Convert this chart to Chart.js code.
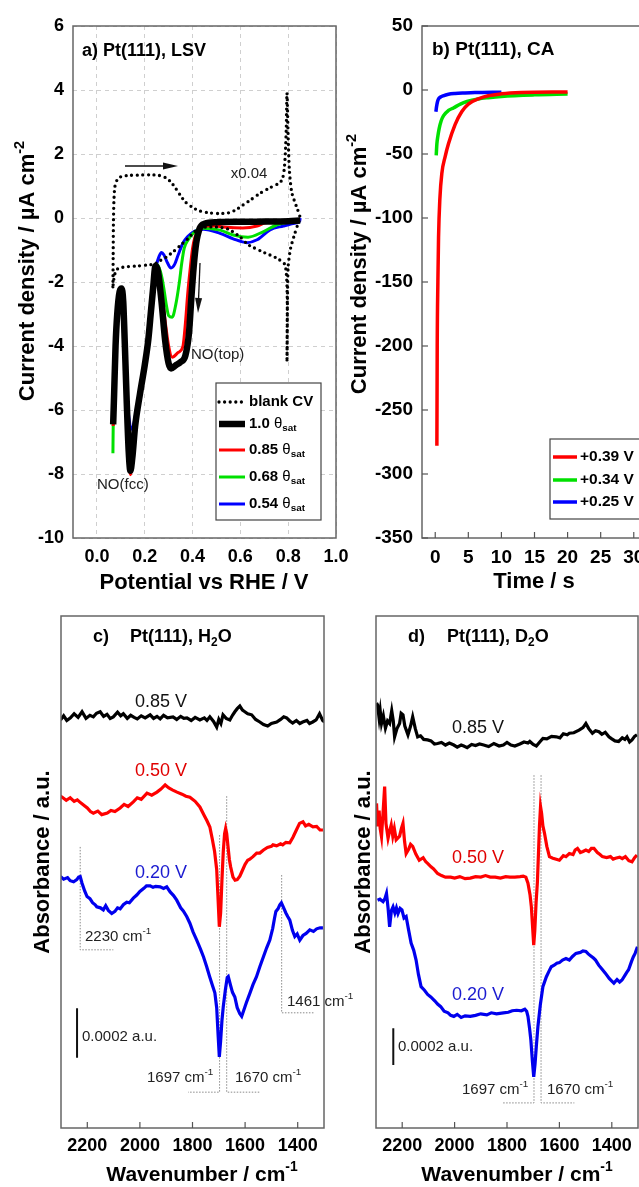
<!DOCTYPE html>
<html>
<head>
<meta charset="utf-8">
<script src="https://cdn.jsdelivr.net/npm/chart.js@4.4.1/dist/chart.umd.min.js"></script>
<style>
  html, body { margin: 0; padding: 0; background: #fff; }
  #page { position: relative; width: 639px; height: 1187px; overflow: hidden; background: #fff; }
  #page canvas { position: absolute; left: 0; top: 0; }
</style>
</head>
<body>
<div id="page">
  <canvas id="chartA" width="639" height="1187"></canvas>
  <canvas id="chartB" width="720" height="1187"></canvas>
  <canvas id="chartC" width="639" height="1187"></canvas>
  <canvas id="chartD" width="639" height="1187"></canvas>
</div>
<script>
const FONT = '"Liberation Sans", Arial, Helvetica, sans-serif';

// ---------- a) Pt(111), LSV  (potential V, current density uA cm-2) ----------
const lsvTicksX = [0, 0.2, 0.4, 0.6, 0.8, 1.0];
const lsvTicksY = [6, 4, 2, 0, -2, -4, -6, -8, -10];
const lsvLabels = ['blank CV', '1.0 θsat', '0.85 θsat', '0.68 θsat', '0.54 θsat'];

const blankCV = [
  [0.067, -2.15], [0.068, -1.2], [0.069, -0.2], [0.071, 0.5], [0.075, 0.97], [0.085, 1.2],
  [0.10, 1.29], [0.13, 1.33], [0.17, 1.34], [0.22, 1.35], [0.26, 1.33], [0.29, 1.25],
  [0.31, 1.12], [0.33, 0.92], [0.35, 0.7], [0.37, 0.5], [0.40, 0.33], [0.43, 0.22],
  [0.47, 0.16], [0.51, 0.14], [0.55, 0.16], [0.58, 0.25], [0.61, 0.4], [0.64, 0.55],
  [0.68, 0.76], [0.72, 0.93], [0.76, 1.08], [0.775, 1.2], [0.783, 1.5], [0.788, 2.0],
  [0.792, 2.8], [0.795, 3.9], [0.80, 2.5], [0.805, 1.5], [0.815, 0.8], [0.835, 0.35],
  [0.849, 0.03], [0.84, -0.2], [0.825, -0.55], [0.81, -0.95], [0.80, -1.5], [0.797, -2.5],
  [0.795, -4.5], [0.796, -2.5], [0.787, -1.47], [0.753, -1.26], [0.70, -1.08], [0.654, -0.92],
  [0.63, -0.82], [0.60, -0.6], [0.55, -0.35], [0.50, -0.28], [0.44, -0.3], [0.41, -0.42],
  [0.38, -0.65], [0.35, -0.85], [0.32, -1.05], [0.29, -1.22], [0.26, -1.35], [0.24, -1.44],
  [0.21, -1.47], [0.17, -1.5], [0.13, -1.52], [0.10, -1.55], [0.085, -1.6], [0.075, -1.75],
  [0.07, -1.95], [0.067, -2.15]
];
const lsv100 = [
  [0.85, -0.08], [0.80, -0.1], [0.70, -0.11], [0.60, -0.12], [0.50, -0.13], [0.45, -0.18],
  [0.43, -0.32], [0.415, -0.8], [0.405, -1.5], [0.395, -2.5], [0.385, -3.6], [0.37, -4.3],
  [0.35, -4.5], [0.33, -4.6], [0.31, -4.7], [0.30, -4.55], [0.285, -3.8], [0.27, -2.6],
  [0.255, -1.65], [0.245, -1.5], [0.235, -2.2], [0.225, -3.0], [0.215, -3.8], [0.20, -4.6],
  [0.18, -5.5], [0.16, -6.5], [0.148, -7.5], [0.14, -7.9], [0.133, -7.3], [0.125, -5.8],
  [0.117, -4.0], [0.11, -2.6], [0.103, -2.2], [0.095, -2.3], [0.085, -3.0], [0.078, -4.0],
  [0.072, -5.5], [0.068, -6.45]
];
const lsv085 = [
  [0.85, -0.08], [0.75, -0.1], [0.70, -0.16], [0.67, -0.25], [0.61, -0.31], [0.54, -0.29],
  [0.48, -0.24], [0.45, -0.25], [0.43, -0.35], [0.41, -0.6], [0.40, -0.95], [0.39, -1.6],
  [0.38, -2.35], [0.37, -3.3], [0.36, -4.0], [0.34, -4.2], [0.315, -4.35], [0.30, -4.0],
  [0.285, -3.2], [0.27, -2.3], [0.255, -1.6], [0.245, -1.5], [0.235, -2.2], [0.225, -3.0],
  [0.215, -3.8], [0.20, -4.6], [0.18, -5.5], [0.16, -6.5], [0.148, -7.55], [0.14, -8.02],
  [0.133, -7.35], [0.125, -5.8], [0.117, -4.0], [0.11, -2.6], [0.103, -2.2], [0.095, -2.3],
  [0.085, -3.0], [0.078, -4.0], [0.072, -5.5], [0.068, -6.5]
];
const lsv068 = [
  [0.85, -0.09], [0.80, -0.13], [0.753, -0.21], [0.695, -0.43], [0.632, -0.6], [0.57, -0.53],
  [0.515, -0.38], [0.445, -0.32], [0.42, -0.38], [0.40, -0.5], [0.38, -0.7], [0.365, -0.95],
  [0.355, -1.4], [0.345, -2.0], [0.33, -2.7], [0.315, -3.1], [0.30, -3.05], [0.29, -2.7],
  [0.28, -2.2], [0.27, -1.8], [0.26, -1.55], [0.25, -1.45], [0.235, -2.2], [0.225, -3.0],
  [0.215, -3.8], [0.20, -4.6], [0.18, -5.5], [0.16, -6.5], [0.148, -7.5], [0.14, -7.85],
  [0.133, -7.3], [0.125, -5.8], [0.117, -4.0], [0.11, -2.6], [0.103, -2.2], [0.095, -2.3],
  [0.085, -3.0], [0.078, -4.0], [0.072, -5.6], [0.068, -6.6], [0.067, -7.35]
];
const lsv054 = [
  [0.85, 0.0], [0.848, -0.1], [0.836, -0.15], [0.78, -0.25], [0.724, -0.37], [0.67, -0.68],
  [0.627, -0.77], [0.57, -0.65], [0.515, -0.48], [0.445, -0.35], [0.42, -0.38], [0.40, -0.45],
  [0.38, -0.58], [0.36, -0.78], [0.34, -1.15], [0.325, -1.45], [0.31, -1.56], [0.295, -1.4],
  [0.28, -1.15], [0.27, -1.08], [0.26, -1.2], [0.25, -1.45], [0.235, -2.2], [0.225, -3.0],
  [0.215, -3.8], [0.20, -4.6], [0.18, -5.5], [0.17, -5.8], [0.15, -6.55], [0.142, -6.6],
  [0.135, -6.3], [0.128, -5.8], [0.117, -4.0], [0.11, -2.6], [0.103, -2.2], [0.095, -2.3],
  [0.085, -3.0], [0.078, -4.0], [0.072, -5.5], [0.068, -6.3]
];

// ---------- b) Pt(111), CA  (time s, current density uA cm-2) ----------
const caTicksX = [0, 5, 10, 15, 20, 25, 30];
const caTicksY = [50, 0, -50, -100, -150, -200, -250, -300, -350];
const caLabels = ['+0.39 V', '+0.34 V', '+0.25 V'];
const ca039 = [
  [0.25, -278], [0.3, -200], [0.4, -150], [0.5, -115], [0.7, -85], [1.0, -65], [1.5, -52],
  [2.0, -42], [3.0, -27], [4.0, -17], [5.0, -11], [6.5, -7], [8, -4.5], [10, -3], [13, -2], [20, -1.5]
];
const ca034 = [
  [0.15, -51], [0.25, -42], [0.4, -36], [0.6, -30], [0.9, -24], [1.26, -20], [2.0, -16],
  [2.75, -14], [3.8, -11], [4.8, -9], [6.5, -7], [8, -6], [10, -5], [15, -3.8], [20, -3.2]
];
const ca025 = [
  [0.1, -17], [0.2, -13], [0.35, -9], [0.5, -7], [0.8, -5.5], [1.2, -4.5], [2.0, -3.3],
  [3.0, -2.7], [4.5, -2.3], [6, -2], [10, -1.7]
];

// ---------- c) H2O, d) D2O IR spectra (wavenumber cm-1, offset absorbance arb.) ----------
const irTicksX = [2200, 2000, 1800, 1600, 1400];

const h2o085 = [
  [2302, 79.7], [2290, 80.5], [2278, 79.6], [2264, 80.1], [2250, 80.9], [2235, 80.2], [2220, 81.3],
  [2205, 80.0], [2190, 80.6], [2177, 80.3], [2165, 81.0], [2151, 81.3], [2138, 80.4], [2125, 80.8],
  [2113, 80.0], [2101, 80.3], [2085, 81.2], [2073, 80.5], [2063, 80.9], [2048, 80.0], [2035, 80.6],
  [2022, 80.2], [2010, 79.9], [1995, 80.5], [1980, 80.1], [1961, 80.7], [1948, 80.0], [1935, 80.4],
  [1923, 79.9], [1910, 80.6], [1895, 80.1], [1874, 80.3], [1860, 79.8], [1845, 80.4], [1833, 80.0],
  [1821, 80.1], [1805, 79.6], [1790, 80.2], [1772, 79.7], [1755, 80.1], [1745, 79.6], [1734, 80.3],
  [1720, 79.4], [1708, 78.3], [1700, 79.8], [1692, 79.0], [1684, 80.7], [1672, 80.0], [1658, 79.7],
  [1648, 80.6], [1639, 81.3], [1630, 81.9], [1620, 82.4], [1610, 81.6], [1601, 81.3], [1590, 80.9],
  [1575, 80.7], [1560, 79.8], [1544, 79.3], [1530, 78.8], [1514, 78.5], [1500, 79.0], [1480, 79.3],
  [1465, 79.8], [1453, 80.3], [1442, 80.1], [1430, 79.5], [1419, 79.1], [1405, 79.6], [1392, 79.0],
  [1381, 79.3], [1365, 79.6], [1355, 79.0], [1343, 79.3], [1330, 79.7], [1317, 80.9], [1305, 79.6],
  [1298, 79.3]
];
const h2o050 = [
  [2302, 64.8], [2295, 64.6], [2280, 64.0], [2265, 64.5], [2250, 63.8], [2238, 64.1], [2225, 63.5],
  [2212, 63.0], [2200, 62.5], [2188, 61.8], [2177, 61.5], [2160, 61.9], [2145, 61.2], [2124, 61.5],
  [2110, 62.0], [2095, 61.8], [2075, 62.5], [2060, 63.2], [2045, 62.8], [2025, 63.7], [2010, 64.5],
  [1995, 64.2], [1973, 65.4], [1955, 65.0], [1935, 65.6], [1920, 66.2], [1904, 67.0], [1890, 66.4],
  [1875, 66.0], [1859, 65.6], [1840, 65.2], [1825, 64.8], [1810, 64.6], [1790, 63.8], [1772, 62.7],
  [1755, 61.0], [1745, 60.0], [1734, 58.8], [1725, 56.5], [1716, 54.0], [1708, 50.5], [1703, 45.0],
  [1698, 39.3], [1693, 42.0], [1688, 48.5], [1683, 54.0], [1678, 57.5], [1674, 58.5], [1670, 57.5],
  [1665, 55.0], [1660, 52.5], [1655, 51.0], [1646, 49.0], [1638, 48.4], [1630, 48.5], [1620, 49.2],
  [1613, 50.0], [1600, 51.5], [1590, 52.3], [1582, 52.5], [1570, 53.0], [1556, 53.7], [1544, 53.7],
  [1530, 54.3], [1515, 54.8], [1500, 55.0], [1494, 55.3], [1480, 55.1], [1465, 55.5], [1457, 55.3],
  [1445, 55.8], [1430, 55.7], [1418, 56.8], [1405, 58.2], [1393, 59.5], [1380, 59.8], [1370, 59.0],
  [1358, 59.3], [1342, 58.8], [1328, 58.9], [1315, 58.2], [1304, 58.2]
];
const h2o020 = [
  [2302, 49.1], [2290, 48.6], [2275, 48.9], [2265, 48.3], [2252, 48.1], [2240, 48.5], [2233, 49.0],
  [2227, 49.1], [2220, 47.8], [2210, 46.3], [2201, 45.2], [2190, 44.8], [2180, 44.0], [2170, 43.6],
  [2164, 43.2], [2150, 43.0], [2139, 42.6], [2130, 43.4], [2120, 42.5], [2107, 41.9], [2095, 42.3],
  [2085, 43.0], [2075, 42.8], [2063, 43.6], [2050, 44.1], [2040, 44.0], [2025, 44.9], [2012, 45.5],
  [2000, 46.2], [1985, 46.8], [1975, 47.3], [1961, 47.3], [1950, 47.0], [1940, 47.2], [1923, 47.1],
  [1910, 46.8], [1898, 47.1], [1885, 46.1], [1872, 45.4], [1860, 44.5], [1845, 43.0], [1835, 42.4],
  [1822, 41.3], [1810, 40.0], [1798, 38.3], [1784, 36.7], [1770, 35.0], [1758, 33.4], [1746, 31.5],
  [1735, 29.6], [1725, 28.0], [1715, 26.4], [1708, 23.5], [1703, 18.5], [1698, 13.9], [1693, 17.0],
  [1688, 21.0], [1683, 23.7], [1675, 27.0], [1668, 29.4], [1664, 29.6], [1655, 27.8], [1648, 26.5],
  [1639, 25.6], [1630, 23.5], [1620, 22.3], [1613, 21.8], [1605, 23.0], [1595, 24.5], [1582, 26.3],
  [1570, 28.0], [1557, 29.5], [1544, 31.5], [1530, 33.5], [1518, 35.2], [1506, 36.7], [1495, 39.0],
  [1488, 41.0], [1483, 42.3], [1475, 42.8], [1468, 43.6], [1462, 44.0], [1455, 43.2], [1445, 42.0],
  [1438, 41.3], [1430, 40.6], [1420, 38.6], [1411, 37.4], [1402, 37.9], [1392, 36.7], [1380, 37.6],
  [1368, 38.0], [1354, 38.7], [1340, 38.4], [1328, 38.9], [1315, 39.1], [1304, 39.1]
];
const h2oScaleBar = [[2239, 23.4], [2239, 13.7]];
const h2oMark2230 = [[2227, 54.9], [2227, 34.8], [2101, 34.8]];
const h2oMark1697 = [[1697, 57.2], [1697, 7.0], [1817, 7.0]];
const h2oMark1670 = [[1670, 64.8], [1670, 7.0], [1544, 7.0]];
const h2oMark1461 = [[1461, 49.4], [1461, 22.5], [1336, 22.5]];

const d2o085 = [
  [2298, 83.0], [2294, 82.6], [2288, 80.0], [2284, 81.5], [2279, 79.0], [2272, 80.5], [2264, 78.1],
  [2256, 79.5], [2248, 79.0], [2240, 81.5], [2234, 79.5], [2229, 76.4], [2220, 78.0], [2210, 79.0],
  [2204, 81.0], [2197, 80.7], [2190, 78.5], [2178, 76.8], [2168, 78.5], [2160, 80.3], [2150, 78.0],
  [2141, 76.4], [2130, 76.6], [2118, 75.9], [2103, 75.8], [2090, 75.6], [2077, 75.0], [2065, 75.1],
  [2050, 75.3], [2035, 74.8], [2020, 75.2], [2003, 74.8], [1990, 74.4], [1975, 74.8], [1965, 74.6],
  [1952, 74.3], [1935, 74.9], [1920, 74.7], [1905, 75.0], [1889, 74.8], [1870, 74.5], [1850, 75.1],
  [1830, 74.6], [1814, 74.8], [1800, 75.3], [1785, 74.8], [1770, 74.6], [1751, 75.0], [1735, 75.4],
  [1720, 75.2], [1713, 75.5], [1700, 74.9], [1688, 74.6], [1675, 75.4], [1663, 76.1], [1648, 76.0],
  [1630, 76.5], [1612, 76.4], [1598, 76.2], [1585, 77.0], [1570, 76.8], [1562, 77.1], [1545, 77.2],
  [1525, 77.7], [1510, 78.2], [1499, 79.0], [1488, 78.0], [1474, 77.1], [1462, 77.6], [1449, 77.4],
  [1438, 76.9], [1425, 77.3], [1411, 76.4], [1400, 76.0], [1388, 75.6], [1374, 75.5], [1360, 76.2],
  [1350, 75.9], [1342, 76.4], [1332, 75.4], [1323, 75.8], [1313, 76.5], [1304, 76.8]
];
const d2o050 = [
  [2298, 63.4], [2294, 58.9], [2288, 62.0], [2284, 58.5], [2279, 56.9], [2272, 62.5], [2267, 66.7],
  [2262, 59.5], [2254, 56.6], [2248, 58.0], [2242, 59.2], [2236, 57.0], [2230, 58.5], [2223, 56.3],
  [2210, 57.0], [2203, 58.5], [2197, 59.5], [2191, 56.0], [2185, 53.6], [2175, 54.5], [2168, 55.4],
  [2160, 55.0], [2148, 53.5], [2135, 52.3], [2120, 52.8], [2110, 52.0], [2103, 51.7], [2090, 51.0],
  [2080, 50.6], [2065, 49.7], [2050, 49.3], [2035, 49.0], [2015, 49.0], [2000, 48.8], [1980, 49.1],
  [1960, 48.7], [1940, 48.8], [1920, 49.1], [1900, 49.0], [1882, 49.3], [1864, 49.0], [1845, 49.0],
  [1825, 48.8], [1805, 49.1], [1789, 49.0], [1770, 49.0], [1750, 49.1], [1738, 49.2], [1728, 49.0],
  [1720, 47.8], [1712, 45.5], [1707, 43.2], [1702, 39.0], [1698, 35.7], [1694, 38.5], [1689, 44.0],
  [1684, 48.0], [1680, 53.5], [1676, 59.0], [1672, 62.8], [1668, 61.5], [1663, 59.0], [1657, 57.6],
  [1648, 55.0], [1638, 53.0], [1625, 52.7], [1612, 52.5], [1600, 52.3], [1585, 53.2], [1575, 53.0],
  [1562, 53.6], [1548, 53.4], [1540, 54.3], [1531, 54.6], [1520, 53.8], [1510, 54.0], [1499, 54.3],
  [1488, 54.0], [1478, 54.6], [1468, 54.6], [1455, 53.8], [1445, 53.4], [1436, 53.0], [1420, 52.8],
  [1405, 53.0], [1395, 52.5], [1386, 52.7], [1370, 52.9], [1360, 52.6], [1348, 53.0], [1335, 52.2],
  [1323, 52.0], [1313, 52.8], [1304, 53.3]
];
const d2o020 = [
  [2294, 44.5], [2285, 44.7], [2273, 44.2], [2266, 44.8], [2260, 45.8], [2254, 43.0], [2248, 39.3],
  [2241, 42.5], [2235, 43.2], [2228, 42.0], [2222, 43.0], [2216, 41.9], [2208, 42.9], [2201, 42.6],
  [2193, 41.0], [2185, 41.3], [2176, 38.8], [2166, 36.1], [2156, 34.7], [2147, 32.8], [2138, 30.0],
  [2128, 27.6], [2115, 26.9], [2103, 26.1], [2091, 25.6], [2075, 24.8], [2065, 24.2], [2053, 23.7],
  [2040, 22.8], [2025, 22.5], [2015, 22.0], [2003, 21.8], [1990, 22.2], [1975, 21.6], [1960, 21.9],
  [1940, 21.8], [1920, 22.0], [1900, 22.3], [1877, 22.1], [1860, 22.5], [1840, 22.3], [1814, 22.5],
  [1795, 22.6], [1780, 22.9], [1763, 23.0], [1745, 22.9], [1732, 23.2], [1725, 22.8], [1720, 21.8],
  [1714, 19.5], [1709, 17.2], [1703, 13.0], [1698, 10.0], [1693, 12.5], [1688, 16.0], [1682, 19.8],
  [1673, 24.0], [1663, 27.6], [1650, 29.5], [1640, 30.6], [1631, 31.5], [1620, 31.8], [1610, 32.2],
  [1600, 32.3], [1588, 32.8], [1575, 33.1], [1562, 32.8], [1550, 33.5], [1537, 34.1], [1520, 34.3],
  [1510, 34.6], [1499, 34.5], [1490, 34.0], [1480, 33.6], [1470, 33.2], [1462, 32.8], [1450, 31.8],
  [1437, 31.0], [1424, 30.2], [1410, 29.2], [1400, 28.7], [1392, 28.3], [1380, 29.0], [1370, 28.5],
  [1361, 28.9], [1350, 29.8], [1343, 30.4], [1336, 30.9], [1325, 32.5], [1318, 33.4], [1311, 34.1],
  [1302, 35.4]
];
const d2oScaleBar = [[2234, 19.5], [2234, 12.3]];
const d2oMark1697 = [[1697, 68.9], [1697, 4.9], [1819, 4.9]];
const d2oMark1670 = [[1670, 68.9], [1670, 4.9], [1543, 4.9]];

// ---------- helpers ----------
const pts = (arr) => arr.map(([x, y]) => ({ x, y }));

function line(data, color, width, extra) {
  return Object.assign({
    data: pts(data), borderColor: color, borderWidth: width,
    pointRadius: 0, fill: false, tension: 0,
  }, extra || {});
}

function leader(data) {
  return line(data, '#8a8a8a', 1, { borderDash: [1.5, 1.5] });
}

// draw text made of parts: [text, 'sup'|'sub'|'', weight]
function richText(ctx, parts, x, y, o) {
  const size = o.size;
  const fontOf = (p) => `${p[2] || o.weight || 'bold'} ${p[1] ? size * 0.66 : size}px ${FONT}`;
  let w = 0;
  for (const p of parts) { ctx.font = fontOf(p); w += ctx.measureText(p[0]).width; }
  ctx.save();
  ctx.translate(x, y);
  if (o.rotate) ctx.rotate(o.rotate);
  ctx.fillStyle = o.color || '#000';
  ctx.textBaseline = 'middle';
  ctx.textAlign = 'left';
  let cx = o.align === 'left' ? 0 : o.align === 'right' ? -w : -w / 2;
  for (const p of parts) {
    ctx.font = fontOf(p);
    const dy = p[1] === 'sup' ? -size * 0.36 : p[1] === 'sub' ? size * 0.3 : 0;
    ctx.fillText(p[0], cx, dy);
    cx += ctx.measureText(p[0]).width;
  }
  ctx.restore();
}

function thetaParts(label) {
  if (!label.endsWith('θsat')) return [[label]];
  return [[label.slice(0, -4)], ['θ', '', 'normal'], ['sat', 'sub']];
}

function arrow(ctx, x1, y1, x2, y2) {
  const ang = Math.atan2(y2 - y1, x2 - x1);
  const c = Math.cos(ang), s = Math.sin(ang);
  ctx.save();
  ctx.strokeStyle = '#111'; ctx.fillStyle = '#111'; ctx.lineWidth = 1.3;
  ctx.beginPath(); ctx.moveTo(x1, y1); ctx.lineTo(x2 - 6 * c, y2 - 6 * s); ctx.stroke();
  ctx.beginPath();
  ctx.moveTo(x2, y2);
  ctx.lineTo(x2 - 15 * c + 3.5 * s, y2 - 15 * s - 3.5 * c);
  ctx.lineTo(x2 - 15 * c - 3.5 * s, y2 - 15 * s + 3.5 * c);
  ctx.closePath(); ctx.fill();
  ctx.restore();
}

function drawLegend(ctx, chart, box, rows, x0, x1, tx, size, labels) {
  ctx.save();
  ctx.fillStyle = '#fff';
  ctx.fillRect(box[0], box[1], box[2] - box[0], box[3] - box[1]);
  ctx.strokeStyle = '#444'; ctx.lineWidth = 1.2;
  ctx.strokeRect(box[0], box[1], box[2] - box[0], box[3] - box[1]);
  rows.forEach((y, i) => {
    const ds = chart.data.datasets[i];
    ctx.save();
    ctx.strokeStyle = ds.borderColor;
    ctx.lineWidth = ds.borderWidth;
    ctx.lineCap = ds.borderCapStyle || 'butt';
    ctx.setLineDash(ds.borderDash || []);
    ctx.beginPath(); ctx.moveTo(x0, y); ctx.lineTo(x1, y); ctx.stroke();
    ctx.restore();
    richText(ctx, thetaParts(labels[i]), tx, y, { size, align: 'left' });
  });
  ctx.restore();
}

function overlay(cfg) {
  return {
    id: 'overlay',
    afterDraw(chart) {
      const { ctx, chartArea: a } = chart;
      ctx.save();
      ctx.strokeStyle = '#666'; ctx.lineWidth = 1.5;
      ctx.strokeRect(a.left, a.top, a.right - a.left, a.bottom - a.top);
      ctx.strokeStyle = '#555'; ctx.lineWidth = 1.2;
      (cfg.ticksX || []).forEach((v) => {
        const px = chart.scales.x.getPixelForValue(v);
        ctx.beginPath(); ctx.moveTo(px, a.bottom); ctx.lineTo(px, a.bottom - 6); ctx.stroke();
      });
      (cfg.ticksY || []).forEach((v) => {
        const py = chart.scales.y.getPixelForValue(v);
        ctx.beginPath(); ctx.moveTo(a.left, py); ctx.lineTo(a.left + 6, py); ctx.stroke();
      });
      ctx.restore();
      cfg.draw(ctx, chart);
    },
  };
}

function tickFont(size) { return { family: FONT, size, weight: 'bold' }; }

// axis boxes get a fixed size so the plot area lands exactly where it should
function axisX(min, max, ticks, o) {
  return {
    type: 'linear', min, max, reverse: !!o.reverse,
    afterBuildTicks: (s) => { s.ticks = ticks.map((v) => ({ value: v })); },
    afterFit: (s) => { s.height = o.box; },
    ticks: { font: tickFont(o.size), color: '#000', padding: o.padding, maxRotation: 0, autoSkip: false,
             callback: o.fmt || ((v) => String(v)) },
    grid: o.grid || { display: false, drawTicks: false },
    border: { display: false, dash: o.dash || [] },
  };
}

function axisY(min, max, ticks, o) {
  return {
    type: 'linear', min, max,
    afterBuildTicks: (s) => { s.ticks = ticks.map((v) => ({ value: v })); },
    afterFit: (s) => { s.width = o.box; },
    ticks: { font: tickFont(o.size), color: '#000', padding: o.padding, autoSkip: false,
             callback: (v) => String(v) },
    grid: o.grid || { display: false, drawTicks: false },
    border: { display: false, dash: o.dash || [] },
  };
}

function baseOptions(area, W, yBox, xBox, scales) {
  return {
    responsive: false, animation: false, devicePixelRatio: 1,
    layout: { padding: { left: area[0] - yBox, top: area[1], right: W - area[2], bottom: 1187 - area[3] - xBox } },
    plugins: { legend: { display: false }, tooltip: { enabled: false } },
    events: [],
    scales,
  };
}

// ---------- a) ----------
const gridA = { color: '#cfcfcf', lineWidth: 1, drawTicks: false };
new Chart(document.getElementById('chartA'), {
  type: 'line',
  data: {
    datasets: [
      line(blankCV, '#000', 3.3, { borderDash: [0, 5.6], borderCapStyle: 'round', tension: 0.25 }),
      line(lsv100, '#000', 6.5, { cubicInterpolationMode: 'monotone', borderJoinStyle: 'round' }),
      line(lsv085, '#ff0000', 3, { cubicInterpolationMode: 'monotone' }),
      line(lsv068, '#00e000', 3, { cubicInterpolationMode: 'monotone' }),
      line(lsv054, '#0000ff', 3, { cubicInterpolationMode: 'monotone' }),
    ],
  },
  options: baseOptions([73, 26, 336, 538], 639, 70, 40, {
    x: axisX(-0.1, 1.0, lsvTicksX, { size: 18, padding: 8, box: 40, grid: gridA, dash: [4, 4], fmt: (v) => v.toFixed(1) }),
    y: axisY(-10, 6, lsvTicksY, { size: 18, padding: 9, box: 70, grid: gridA, dash: [4, 4] }),
  }),
  plugins: [overlay({
    draw(ctx, chart) {
      richText(ctx, [['a) Pt(111), LSV']], 82, 51, { size: 18, align: 'left' });
      richText(ctx, [['Potential vs RHE / V']], 204, 583, { size: 22 });
      richText(ctx, [['Current density / µA cm'], ['-2', 'sup']], 28, 271, { size: 22, rotate: -Math.PI / 2 });
      richText(ctx, [['x0.04']], 249, 174, { size: 15, weight: 'normal', color: '#222' });
      richText(ctx, [['NO(top)']], 191, 355, { size: 15, weight: 'normal', color: '#222', align: 'left' });
      richText(ctx, [['NO(fcc)']], 97, 485, { size: 15, weight: 'normal', color: '#222', align: 'left' });
      arrow(ctx, 125, 166, 178, 166);
      arrow(ctx, 200, 263, 198, 313);
      drawLegend(ctx, chart, [216, 383, 321, 520], [402, 424, 450, 477, 504], 219, 245, 249, 15, lsvLabels);
    },
  })],
});

// ---------- b) ----------
new Chart(document.getElementById('chartB'), {
  type: 'line',
  data: {
    datasets: [
      line(ca039, '#ff0000', 3.5, { cubicInterpolationMode: 'monotone' }),
      line(ca034, '#00e000', 3.5, { cubicInterpolationMode: 'monotone' }),
      line(ca025, '#0000ff', 3.5, { cubicInterpolationMode: 'monotone' }),
    ],
  },
  options: baseOptions([422, 26, 647, 538], 720, 70, 40, {
    x: axisX(-2, 32, caTicksX, { size: 19, padding: 8, box: 40 }),
    y: axisY(-350, 50, caTicksY, { size: 19, padding: 9, box: 70 }),
  }),
  plugins: [overlay({
    ticksX: caTicksX,
    ticksY: caTicksY,
    draw(ctx, chart) {
      richText(ctx, [['b) Pt(111), CA']], 432, 50, { size: 19, align: 'left' });
      richText(ctx, [['Time / s']], 534, 582, { size: 22 });
      richText(ctx, [['Current density / µA cm'], ['-2', 'sup']], 360, 264, { size: 22, rotate: -Math.PI / 2 });
      drawLegend(ctx, chart, [550, 439, 660, 519], [457, 480, 502], 553, 577, 580, 15.5, caLabels);
    },
  })],
});

// ---------- c) and d) ----------
function irChart(id, area, series, colors, bar, marks, draw) {
  const datasets = series.map((s, i) => line(s, colors[i], 3.2));
  datasets.push(line(bar, '#111', 2));
  marks.forEach((m) => datasets.push(leader(m)));
  new Chart(document.getElementById(id), {
    type: 'line',
    data: { datasets },
    options: baseOptions(area, 639, 0, 40, {
      x: axisX(1300, 2300, irTicksX, { size: 18, padding: 7, box: 40, reverse: true }),
      y: { type: 'linear', display: false, min: 0, max: 100 },
    }),
    plugins: [overlay({ ticksX: irTicksX, draw })],
  });
}

const irColors = ['#000', '#ff0000', '#0000ee'];

irChart('chartC', [61, 616, 324, 1128], [h2o085, h2o050, h2o020], irColors, h2oScaleBar,
  [h2oMark2230, h2oMark1697, h2oMark1670, h2oMark1461], (ctx) => {
    richText(ctx, [['c)']], 93, 637, { size: 18, align: 'left' });
    richText(ctx, [['Pt(111), H'], ['2', 'sub'], ['O']], 130, 637, { size: 18, align: 'left' });
    richText(ctx, [['Wavenumber / cm'], ['-1', 'sup']], 202, 1175, { size: 21 });
    richText(ctx, [['Absorbance / a.u.']], 43, 862, { size: 22, rotate: -Math.PI / 2 });
    richText(ctx, [['0.85 V']], 161, 702, { size: 18, weight: 'normal', color: '#111' });
    richText(ctx, [['0.50 V']], 161, 771, { size: 18, weight: 'normal', color: '#e00000' });
    richText(ctx, [['0.20 V']], 161, 873, { size: 18, weight: 'normal', color: '#1a1ad0' });
    const n = { size: 15, weight: 'normal', color: '#222', align: 'left' };
    richText(ctx, [['2230 cm'], ['-1', 'sup']], 85, 937, n);
    richText(ctx, [['1697 cm'], ['-1', 'sup']], 147, 1078, n);
    richText(ctx, [['1670 cm'], ['-1', 'sup']], 235, 1078, n);
    richText(ctx, [['1461 cm'], ['-1', 'sup']], 287, 1002, n);
    richText(ctx, [['0.0002 a.u.']], 82, 1037, n);
  });

irChart('chartD', [376, 616, 638, 1128], [d2o085, d2o050, d2o020], irColors, d2oScaleBar,
  [d2oMark1697, d2oMark1670], (ctx) => {
    richText(ctx, [['d)']], 408, 637, { size: 18, align: 'left' });
    richText(ctx, [['Pt(111), D'], ['2', 'sub'], ['O']], 447, 637, { size: 18, align: 'left' });
    richText(ctx, [['Wavenumber / cm'], ['-1', 'sup']], 517, 1175, { size: 21 });
    richText(ctx, [['Absorbance / a.u.']], 364, 862, { size: 22, rotate: -Math.PI / 2 });
    richText(ctx, [['0.85 V']], 478, 728, { size: 18, weight: 'normal', color: '#111' });
    richText(ctx, [['0.50 V']], 478, 858, { size: 18, weight: 'normal', color: '#e00000' });
    richText(ctx, [['0.20 V']], 478, 995, { size: 18, weight: 'normal', color: '#1a1ad0' });
    const n = { size: 15, weight: 'normal', color: '#222', align: 'left' };
    richText(ctx, [['1697 cm'], ['-1', 'sup']], 462, 1090, n);
    richText(ctx, [['1670 cm'], ['-1', 'sup']], 547, 1090, n);
    richText(ctx, [['0.0002 a.u.']], 398, 1047, n);
  });
</script>
</body>
</html>
